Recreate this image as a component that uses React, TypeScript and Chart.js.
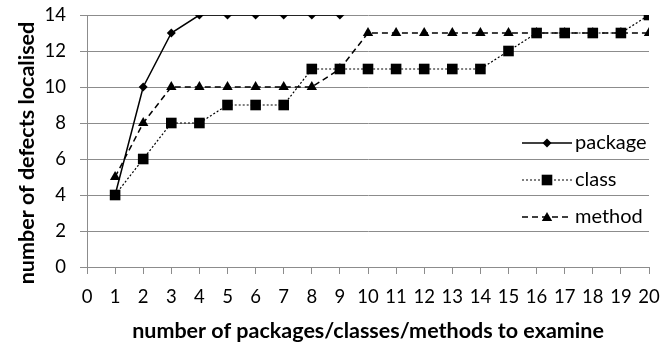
import React, { useEffect, useRef } from "react";
import { Chart, registerables } from "chart.js";

Chart.register(...registerables);

const xValues = [1, 2, 3, 4, 5, 6, 7, 8, 9, 10, 11, 12, 13, 14, 15, 16, 17, 18, 19, 20];
const packageValues = [4, 10, 13, 14, 14, 14, 14, 14, 14];
const classValues = [4, 6, 8, 8, 9, 9, 9, 11, 11, 11, 11, 11, 11, 11, 12, 13, 13, 13, 13, 14];
const methodValues = [5, 8, 10, 10, 10, 10, 10, 10, 11, 13, 13, 13, 13, 13, 13, 13, 13, 13, 13, 13];
const seriesNames = ["package", "class", "method"];
const xTitle = "number of packages/classes/methods to examine";
const yTitle = "number of defects localised";

const FONT = "Lato, 'Open Sans', sans-serif";
const GRID = "#8c8c8c";

function toPoints(vals: number[]) {
  return vals.map((v, i) => ({ x: xValues[i], y: v }));
}

function drawMarker(ctx: CanvasRenderingContext2D, style: string, x: number, y: number, r: number) {
  ctx.beginPath();
  if (style === "rectRot") {
    ctx.moveTo(x, y - r);
    ctx.lineTo(x + r, y);
    ctx.lineTo(x, y + r);
    ctx.lineTo(x - r, y);
  } else if (style === "rect") {
    const s = r * Math.SQRT1_2;
    ctx.rect(x - s, y - s, 2 * s, 2 * s);
  } else {
    const w = r * Math.sqrt(3) / 2;
    ctx.moveTo(x, y - r);
    ctx.lineTo(x + w, y + r / 2);
    ctx.lineTo(x - w, y + r / 2);
  }
  ctx.closePath();
  ctx.fill();
}

const decorPlugin = {
  id: "decor",
  afterDraw(chart: any) {
    const { ctx, chartArea } = chart;
    const ds = chart.data.datasets;
    ctx.save();
    // legend
    ds.forEach((d: any, i: number) => {
      const y = chartArea.top + 128 + i * 37;
      const x0 = chartArea.right - 127;
      const x1 = chartArea.right - 77;
      ctx.strokeStyle = "#000";
      ctx.lineWidth = d.borderWidth;
      ctx.setLineDash(d.borderDash || []);
      ctx.beginPath();
      ctx.moveTo(x0, y);
      ctx.lineTo(x1, y);
      ctx.stroke();
      ctx.setLineDash([]);
      ctx.fillStyle = "#000";
      drawMarker(ctx, d.pointStyle, (x0 + x1) / 2, y + (d.pointStyle === "triangle" ? 1 : 0), d.pointRadius);
      ctx.font = `20px ${FONT}`;
      ctx.textBaseline = "middle";
      ctx.textAlign = "left";
      ctx.fillText(d.label, x1 + 3, y);
    });
    // axis titles
    ctx.fillStyle = "#000";
    ctx.font = `bold 21.5px ${FONT}`;
    ctx.textAlign = "center";
    ctx.textBaseline = "middle";
    ctx.fillText(xTitle, (chartArea.left + chartArea.right) / 2, 331);
    ctx.translate(27, (chartArea.top + chartArea.bottom) / 2 + 12);
    ctx.rotate(-Math.PI / 2);
    ctx.fillText(yTitle, 0, 0);
    ctx.restore();
  },
};

export default function App() {
  const ref = useRef<HTMLCanvasElement>(null);
  useEffect(() => {
    document.body.style.margin = "0";
    const zeroPad = (s: any) => {
      s.paddingTop = 0;
      s.paddingBottom = 0;
      s.paddingLeft = 0;
      s.paddingRight = 0;
    };
    const chart = new Chart(ref.current!, {
      type: "line",
      data: {
        datasets: [
          {
            label: seriesNames[0],
            data: toPoints(packageValues),
            borderColor: "#000",
            backgroundColor: "#000",
            borderWidth: 1.5,
            pointStyle: "rectRot",
            pointRadius: 4.5,
            pointBorderWidth: 0,
          },
          {
            label: seriesNames[1],
            data: toPoints(classValues),
            borderColor: "#000",
            backgroundColor: "#000",
            borderWidth: 1.2,
            borderDash: [2, 2],
            pointStyle: "rect",
            pointRadius: 7.5,
            pointBorderWidth: 0,
          },
          {
            label: seriesNames[2],
            data: toPoints(methodValues),
            borderColor: "#000",
            backgroundColor: "#000",
            borderWidth: 1.5,
            borderDash: [6, 4],
            pointStyle: "triangle",
            pointRadius: 6,
            pointBorderWidth: 0,
          },
        ],
      },
      options: {
        animation: false,
        responsive: false,
        layout: { padding: { top: 15, right: 12, left: 0, bottom: 0 } },
        plugins: { legend: { display: false }, tooltip: { enabled: false } },
        scales: {
          x: {
            type: "linear",
            min: 0,
            max: 20,
            ticks: { stepSize: 1, color: "#000", font: { family: FONT, size: 18.5 }, padding: 12, maxRotation: 0, autoSkip: false },
            grid: { display: true, drawOnChartArea: false, drawTicks: true, tickLength: 7, color: GRID },
            border: { color: GRID, width: 1 },
            title: { display: false },
            afterFit: (s: any) => { s.height = 78; zeroPad(s); },
          },
          y: {
            min: 0,
            max: 14,
            ticks: { stepSize: 2, color: "#000", font: { family: FONT, size: 18.5 }, padding: 14 },
            grid: { color: GRID, tickLength: 7, lineWidth: 1 },
            border: { color: GRID, width: 1 },
            title: { display: false },
            afterFit: (s: any) => { s.width = 87; zeroPad(s); },
          },
        },
      },
      plugins: [decorPlugin],
    } as any);
    return () => chart.destroy();
  }, []);
  return (
    <div style={{ width: 661, height: 345 }}>
      <canvas ref={ref} width={661} height={345} style={{ display: "block" }} />
    </div>
  );
}
